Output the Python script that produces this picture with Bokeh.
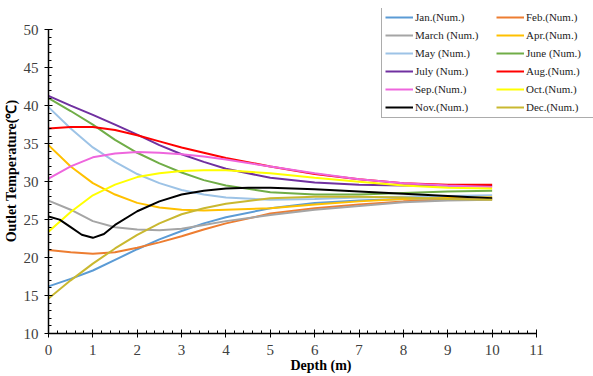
from bokeh.plotting import figure
from bokeh.models import Legend, LegendItem, Range1d, SingleIntervalTicker
from bokeh.embed import file_html
from bokeh.resources import INLINE

depth = [0, 0.5, 1, 1.5, 2, 2.5, 3, 3.5, 4, 5, 6, 7, 8, 9, 10]
depth_nov = [0, 0.25, 0.5, 0.75, 1, 1.25, 1.5, 2, 2.5, 3, 3.5, 4, 4.5, 5, 6, 7, 8, 9, 10]

jan = [16.2, 17.2, 18.3, 19.7, 21.1, 22.4, 23.5, 24.5, 25.3, 26.5, 27.2, 27.5, 27.7, 27.8, 27.8]
feb = [21.0, 20.7, 20.5, 20.7, 21.3, 22.0, 22.8, 23.7, 24.5, 25.8, 26.5, 27.0, 27.4, 27.6, 27.7]
mar = [27.5, 26.3, 24.8, 24.0, 23.7, 23.6, 23.8, 24.3, 24.8, 25.6, 26.3, 26.8, 27.3, 27.5, 27.6]
apr = [34.8, 32.0, 29.8, 28.3, 27.2, 26.6, 26.3, 26.2, 26.3, 26.5, 27.0, 27.4, 27.7, 27.9, 28.0]
may = [39.8, 37.0, 34.5, 32.6, 31.0, 29.8, 28.9, 28.3, 27.9, 27.6, 27.7, 27.9, 28.0, 28.1, 28.2]
jun = [41.0, 39.3, 37.5, 35.5, 33.8, 32.4, 31.2, 30.2, 29.5, 28.6, 28.3, 28.3, 28.5, 28.7, 28.8]
jul = [41.3, 40.0, 38.8, 37.5, 36.2, 34.8, 33.6, 32.6, 31.7, 30.5, 29.9, 29.6, 29.5, 29.5, 29.5]
aug = [37.0, 37.2, 37.2, 36.8, 36.1, 35.3, 34.5, 33.8, 33.1, 32.0, 31.0, 30.3, 29.8, 29.6, 29.6]
sep = [30.4, 32.0, 33.2, 33.7, 33.9, 33.8, 33.6, 33.3, 32.9, 32.0, 31.1, 30.3, 29.8, 29.5, 29.3]
octo = [23.4, 26.0, 28.2, 29.6, 30.6, 31.1, 31.4, 31.5, 31.5, 31.1, 30.5, 30.0, 29.5, 29.2, 29.1]
nov = [25.4, 25.0, 24.0, 23.0, 22.6, 23.1, 24.3, 26.1, 27.4, 28.3, 28.8, 29.1, 29.2, 29.2, 29.0, 28.7, 28.4, 28.1, 27.8]
dec = [14.6, 17.0, 19.2, 21.2, 23.0, 24.5, 25.7, 26.5, 27.1, 27.8, 28.0, 28.0, 27.9, 27.7, 27.6]

labels = ["Jan.(Num.)", "Feb.(Num.)", "March (Num.)", "Apr.(Num.)", "May (Num.)", "June (Num.)",
          "July (Num.)", "Aug.(Num.)", "Sep.(Num.)", "Oct.(Num.)", "Nov.(Num.)", "Dec.(Num.)"]
colors = ["#5B9BD5", "#ED7D31", "#A5A5A5", "#FFC000", "#9DC3E6", "#70AD47",
          "#7030A0", "#FF0000", "#EE66DD", "#FFFF00", "#000000", "#C9B830"]
series = [jan, feb, mar, apr, may, jun, jul, aug, sep, octo, nov, dec]

x_ticks_end = 11
y_ticks = (10, 50)

SERIF = "'Liberation Serif', 'Times New Roman', serif"

p = figure(width=593, height=376, output_backend="svg", toolbar_location=None,
           x_range=Range1d(0, 12.285), y_range=Range1d(10, 52.8),
           min_border_left=48, min_border_right=0, min_border_top=8, min_border_bottom=43)
p.outline_line_color = None
p.xgrid.visible = False
p.ygrid.visible = False

items = []
for lab, col, ys in zip(labels, colors, series):
    xs = depth_nov if lab.startswith("Nov") else depth
    r = p.line(xs, ys, line_color=col, line_width=2)
    items.append(LegendItem(label=lab, renderers=[r]))

legend = Legend(items=items, orientation="horizontal", ncols=2, location=(333, 215),
                label_text_font=SERIF, label_text_font_size="11px",
                label_text_color="#222222",
                glyph_width=28, glyph_height=14, label_height=14, label_width=77,
                label_standoff=2, spacing=4, padding=3, margin=0,
                border_line_color="#595959", border_line_width=1,
                background_fill_color="white", background_fill_alpha=1)
p.add_layout(legend, "center")

for ax in (p.xaxis[0], p.yaxis[0]):
    ax.axis_line_color = "black"
    ax.axis_line_width = 1.5
    ax.major_tick_line_color = "black"
    ax.minor_tick_line_color = "black"
    ax.major_tick_in = 4
    ax.major_tick_out = 4
    ax.minor_tick_in = 3
    ax.minor_tick_out = 0
    ax.major_label_text_font = SERIF
    ax.major_label_text_font_size = "15px"
    ax.major_label_text_color = "#404040"
    ax.axis_label_text_font = SERIF
    ax.axis_label_text_font_size = "14px"
    ax.axis_label_text_font_style = "bold"
    ax.axis_label_text_color = "black"

p.xaxis[0].bounds = (0, x_ticks_end)
p.yaxis[0].bounds = y_ticks
p.xaxis[0].ticker = SingleIntervalTicker(interval=1, num_minor_ticks=5)
p.yaxis[0].ticker = SingleIntervalTicker(interval=5, num_minor_ticks=5)
p.xaxis.axis_label = "Depth (m)"
p.yaxis.axis_label = "Outlet Temperature(℃)"
p.xaxis.axis_label_standoff = 0
p.yaxis.axis_label_standoff = 2
p.xaxis.major_label_standoff = 7
p.yaxis.major_label_standoff = 6

open("out.html", "w").write(file_html(p, INLINE))
